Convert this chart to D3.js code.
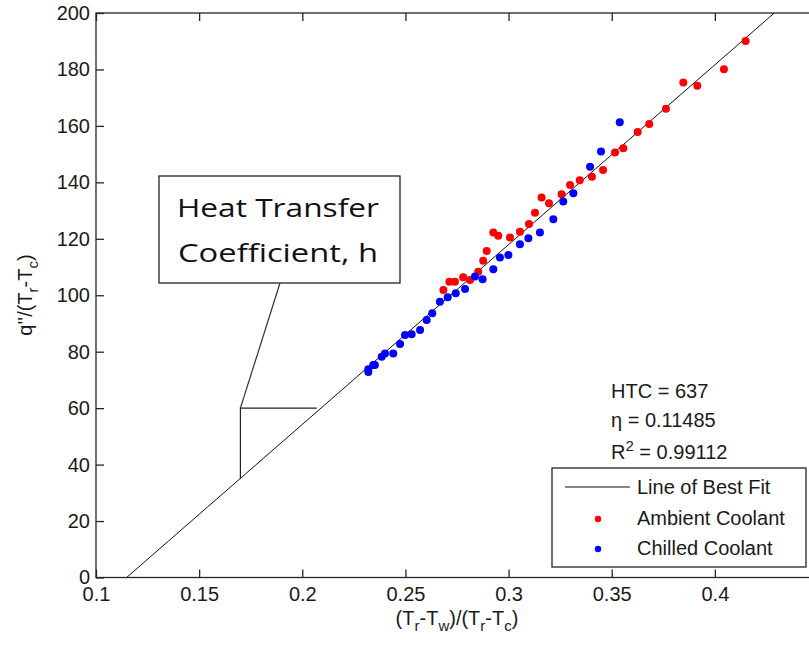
<!DOCTYPE html>
<html><head><meta charset="utf-8">
<script src="https://cdn.jsdelivr.net/npm/d3@7"></script>
<style>body{margin:0;background:#fff}svg{display:block}</style>
</head><body><svg id="c" width="809" height="646"></svg>
<script>
// ---- data ----
const ambientX = [0.4149,0.4044,0.3847,0.3915,0.3763,0.3682,0.3626,0.3556,0.3516,0.3458,0.3404,0.3345,0.3298,0.3257,0.3196,0.3160,0.3128,
  0.3099,0.3055,0.3007,0.2950,0.2926,0.2894,0.2877,0.2853,0.2813,0.2780,0.2740,0.2713,0.2684];
const ambientY = [190.1,180.1,175.4,174.2,166.1,160.7,157.8,152.1,150.6,144.4,142.0,140.7,139.1,135.8,132.6,134.6,129.2,
  125.2,122.5,120.5,121.1,122.2,115.7,112.2,108.3,105.4,106.4,104.8,104.8,101.9];
const chilledX = [0.3539,0.3448,0.3395,0.3314,0.3265,0.3217,0.3152,0.3096,0.3055,0.2999,0.2958,0.2926,0.2874,0.2837,0.2789,
  0.2744,0.2705,0.2667,0.2630,0.2603,0.2571,0.2530,0.2498,0.2474,0.2441,0.2401,0.2385,0.2352,0.2344,0.2320,0.2320];
const chilledY = [161.3,150.9,145.5,136.1,133.2,126.9,122.2,120.2,118.1,114.3,113.4,109.2,105.7,106.6,102.2,
  100.7,99.3,97.7,93.6,91.2,87.7,86.2,85.9,82.7,79.4,79.4,78.2,75.3,75.3,73.8,72.8];
const HTC = 637, ETA = 0.11485, R2 = 0.99112;
const xTicks = [0.1,0.15,0.2,0.25,0.3,0.35,0.4];
const yTicks = [0,20,40,60,80,100,120,140,160,180,200];
const xDomain = [0.1, 0.45], yDomain = [0, 200];
const triX = [0.17, 0.207]; const triY = 60;
const legendLabels = ["Line of Best Fit","Ambient Coolant","Chilled Coolant"];
const noteLines = ["Heat Transfer","Coefficient, h"];

// ---- layout ----
const svg = d3.select("#c");
const L = 96, R = 818, T = 13, B = 577.5;
const x = d3.scaleLinear().domain(xDomain).range([L, R]);
const y = d3.scaleLinear().domain(yDomain).range([B, T]);
const axisCol = "#262626";
const font = "Arial, 'Liberation Sans', Helvetica, sans-serif";

svg.append("rect").attr("x",L).attr("y",T).attr("width",R-L).attr("height",B-T)
  .attr("fill","none").attr("stroke",axisCol).attr("stroke-width",1.3);

const tk = 8;
const gx = svg.append("g").attr("transform",`translate(0,${B})`)
  .call(d3.axisBottom(x).tickValues(xTicks).tickFormat(d3.format("")).tickSizeInner(-tk).tickSizeOuter(0).tickPadding(9));
const gxt = svg.append("g").attr("transform",`translate(0,${T})`)
  .call(d3.axisTop(x).tickValues(xTicks).tickFormat("").tickSizeInner(-tk).tickSizeOuter(0));
const gy = svg.append("g").attr("transform",`translate(${L},0)`)
  .call(d3.axisLeft(y).tickValues(yTicks).tickSizeInner(-tk).tickSizeOuter(0).tickPadding(6));
const gyr = svg.append("g").attr("transform",`translate(${R},0)`)
  .call(d3.axisRight(y).tickValues(yTicks).tickFormat("").tickSizeInner(-tk).tickSizeOuter(0));
[gx,gxt,gy,gyr].forEach(g=>{
  g.select(".domain").remove();
  g.selectAll("line").attr("stroke",axisCol).attr("stroke-width",1.3);
  g.selectAll("text").attr("fill","#1a1a1a").style("font-family",font).style("font-size","20px");
});
gxt.selectAll("text").remove(); gyr.selectAll("text").remove();

// axis titles with subscripts
function addSub(t, parts){
  let pend = 0;
  parts.forEach(p=>{
    const ts = t.append("tspan").text(p.t);
    if(p.sub){ ts.attr("dy",6 - pend).style("font-size","15px"); pend = 6; }
    else { if(pend) ts.attr("dy",-pend); pend = 0; }
  });
}
const xt = svg.append("text").attr("x",(L+R)/2).attr("y",625).attr("text-anchor","middle")
  .style("font-family",font).style("font-size","20px").attr("fill","#1a1a1a");
addSub(xt,[{t:"(T"},{t:"r",sub:1},{t:"-T"},{t:"w",sub:1},{t:")/(T"},{t:"r",sub:1},{t:"-T"},{t:"c",sub:1},{t:")"}]);
const yt = svg.append("text").attr("transform","translate(32,295) rotate(-90)").attr("text-anchor","middle")
  .style("font-family",font).style("font-size","20px").attr("fill","#1a1a1a");
addSub(yt,[{t:"q''/(T"},{t:"r",sub:1},{t:"-T"},{t:"c",sub:1},{t:")"}]);

svg.append("clipPath").attr("id","pc").append("rect").attr("x",L).attr("y",T).attr("width",R-L).attr("height",B-T);
const plot = svg.append("g").attr("clip-path","url(#pc)");

// fit line
const fit = v => HTC*(v-ETA);
const fx0 = ETA, fx1 = ETA + yDomain[1]/HTC;
plot.append("line").attr("x1",x(fx0)).attr("y1",y(fit(fx0))).attr("x2",x(fx1)).attr("y2",y(fit(fx1)))
  .attr("stroke","#111").attr("stroke-width",1);

// points
const amb = ambientX.map((v,i)=>[v,ambientY[i]]);
const chl = chilledX.map((v,i)=>[v,chilledY[i]]);
plot.selectAll(".a").data(amb).enter().append("circle").attr("cx",d=>x(d[0])).attr("cy",d=>y(d[1])).attr("r",4).attr("fill","#ff0000");
plot.selectAll(".b").data(chl).enter().append("circle").attr("cx",d=>x(d[0])).attr("cy",d=>y(d[1])).attr("r",4).attr("fill","#0000ff");

// triangle annotation
plot.append("path").attr("d",`M${x(triX[0])},${y(fit(triX[0]))}L${x(triX[0])},${y(triY)}L${x(triX[1])},${y(triY)}`)
  .attr("fill","none").attr("stroke","#222").attr("stroke-width",1.2);
svg.append("line").attr("x1",x(triX[0])).attr("y1",y(triY)).attr("x2",280).attr("y2",283).attr("stroke","#333").attr("stroke-width",1.2);
svg.append("rect").attr("x",159).attr("y",176).attr("width",241).attr("height",107).attr("fill","#fff").attr("stroke","#222").attr("stroke-width",1.3);
const af = "'Open Sans', Lato, sans-serif";
[[217,202],[262,200]].forEach((p,i)=>svg.append("text").attr("x",278).attr("y",p[0]).attr("text-anchor","middle")
  .attr("textLength",p[1]).attr("lengthAdjust","spacingAndGlyphs")
  .style("font-family",af).style("font-size","26px").attr("fill","#111").text(noteLines[i]));

// stats text
const st = svg.append("g").style("font-family",font).style("font-size","20px").attr("fill","#1a1a1a");
st.append("text").attr("x",611).attr("y",398).text("HTC = "+HTC);
st.append("text").attr("x",611).attr("y",427).text("\u03b7 = "+ETA);
const r2 = st.append("text").attr("x",611).attr("y",459);
r2.append("tspan").text("R");
r2.append("tspan").attr("dy",-8).style("font-size","15px").text("2");
r2.append("tspan").attr("dy",8).text(" = "+R2);

// legend
const lg = svg.append("g");
lg.append("rect").attr("x",552).attr("y",468).attr("width",254).attr("height",99).attr("fill","#fff").attr("stroke","#222").attr("stroke-width",1.3);
lg.append("line").attr("x1",565).attr("x2",630).attr("y1",487).attr("y2",487).attr("stroke","#111").attr("stroke-width",1);
lg.append("circle").attr("cx",598).attr("cy",519).attr("r",3.2).attr("fill","#ff0000");
lg.append("circle").attr("cx",598).attr("cy",549).attr("r",3.2).attr("fill","#0000ff");
[494,525,555].forEach((yy,i)=>lg.append("text").attr("x",637).attr("y",yy).style("font-family",font).style("font-size","20px").attr("fill","#1a1a1a").text(legendLabels[i]));
</script></body></html>
